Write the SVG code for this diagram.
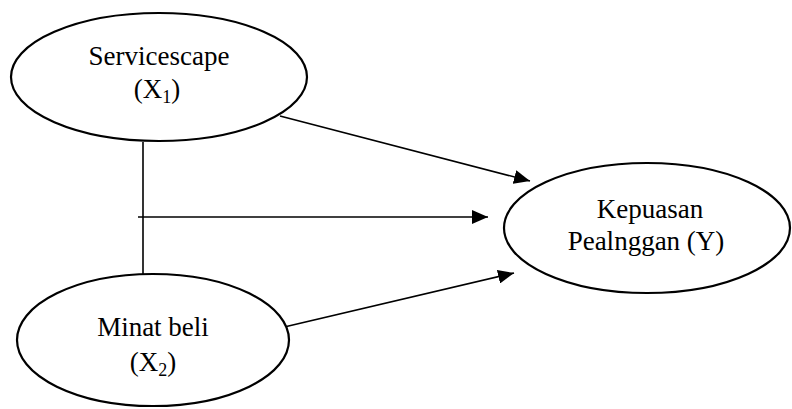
<svg xmlns="http://www.w3.org/2000/svg" width="792" height="409" viewBox="0 0 792 409">
<style>
.node ellipse{fill:#fff;stroke:#000;stroke-width:2.2}
.lbl{font-family:"Liberation Serif","Times New Roman",serif;font-size:27px;fill:#000;text-anchor:middle}
.sub{font-size:18px}
.edge{stroke:#000;stroke-width:1.6;fill:none}
</style>
<defs>
<marker id="ah" markerUnits="userSpaceOnUse" markerWidth="16" markerHeight="14" refX="16" refY="7" orient="auto">
<path d="M0,0 L16,7 L0,14 Z" fill="#000"/>
</marker>
</defs>
<g id="connectors">
<line class="edge" x1="143" y1="142" x2="143" y2="274"/>
<line class="edge" x1="138" y1="217" x2="488" y2="217" marker-end="url(#ah)"/>
<line class="edge" x1="280" y1="116" x2="530" y2="181" marker-end="url(#ah)"/>
<line class="edge" x1="280" y1="328" x2="514" y2="273" marker-end="url(#ah)"/>
</g>
<g id="servicescape" class="node">
<ellipse cx="159" cy="77" rx="148" ry="64"/>
<text class="lbl" x="159" y="65">Servicescape</text>
<text class="lbl" x="157" y="98">(X<tspan class="sub" dy="5">1</tspan><tspan dy="-5">)</tspan></text>
</g>
<g id="minat" class="node">
<ellipse cx="153" cy="340" rx="136" ry="66"/>
<text class="lbl" x="153" y="336">Minat beli</text>
<text class="lbl" x="153" y="371">(X<tspan class="sub" dy="5">2</tspan><tspan dy="-5">)</tspan></text>
</g>
<g id="kepuasan" class="node">
<ellipse cx="647" cy="228" rx="143" ry="65"/>
<text class="lbl" x="650" y="218">Kepuasan</text>
<text class="lbl" x="646" y="250">Pealnggan (Y)</text>
</g>
</svg>
